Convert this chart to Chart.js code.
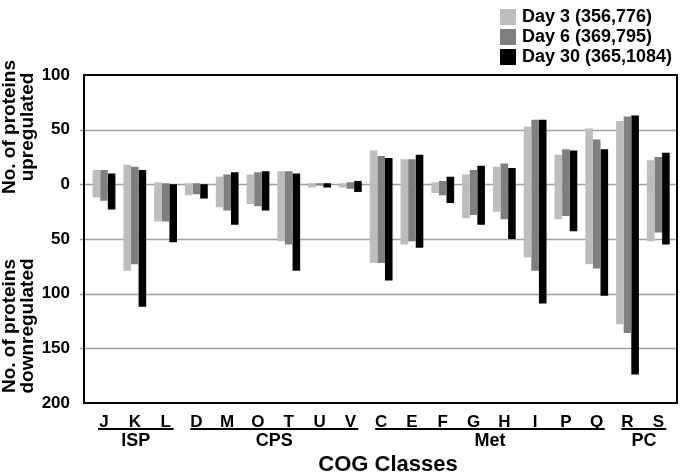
<!DOCTYPE html>
<html>
<head>
<meta charset="utf-8">
<script src="https://cdn.jsdelivr.net/npm/chart.js@4"></script>
<style>
  body { margin: 0; background: #fff; }
  #wrap { width: 680px; height: 476px; }
</style>
</head>
<body>
<div id="wrap"><canvas id="chart"></canvas></div>
<script>
// COG classes on the x axis
const categories = ['J', 'K', 'L', 'D', 'M', 'O', 'T', 'U', 'V', 'C', 'E', 'F', 'G', 'H', 'I', 'P', 'Q', 'R', 'S'];

// proteins up / down per class
const day3Up    = [13, 18, 2, 1, 7, 9, 12, 1, 1, 31, 23, 2, 9, 16, 53, 27, 51, 58, 22];
const day3Down  = [12, 79, 34, 10, 21, 18, 52, 3, 3, 72, 55, 8, 31, 25, 67, 32, 73, 128, 52];
const day6Up    = [13, 16, 1, 1, 9, 11, 12, 1, 2, 26, 23, 3, 13, 19, 59, 32, 41, 62, 25];
const day6Down  = [15, 73, 34, 9, 24, 20, 55, 1, 4, 72, 52, 10, 28, 32, 79, 29, 77, 136, 44];
const day30Up   = [10, 13, 0, 0, 11, 12, 10, 1, 3, 24, 27, 7, 17, 15, 59, 31, 32, 63, 29];
const day30Down = [23, 112, 53, 13, 37, 24, 79, 3, 7, 88, 58, 17, 37, 50, 109, 43, 102, 174, 55];

const seriesNames = ['Day 3 (356,776)', 'Day 6 (369,795)', 'Day 30 (365,1084)'];
const yTicks = [100, 50, 0, -50, -100, -150, -200];
const gridValues = [50, 0, -50, -100, -150];

// class groups shown under the axis
const groupNames = ['ISP', 'CPS', 'Met', 'PC'];
const groupFirst = ['J', 'D', 'C', 'R'];
const groupLast  = ['L', 'V', 'Q', 'S'];

const colors = ['#bdbdbd', '#7f7f7f', '#000000'];
const FONT = '"Liberation Sans", Arial, Helvetica, sans-serif';

function floating(up, down) {
    return up.map((u, i) => [-down[i], u]);
}

const frameAndNotes = {
    id: 'frameAndNotes',
    beforeDatasetsDraw(chart) {
        const ctx = chart.ctx;
        const area = chart.chartArea;
        const y = chart.scales.y;
        const left = area.left - 4.6, right = area.right + 3.3;
        ctx.save();
        ctx.strokeStyle = '#a0a0a0';
        ctx.lineWidth = 1.5;
        gridValues.forEach(v => {
            const py = Math.round(y.getPixelForValue(v)) + 0.5;
            ctx.beginPath();
            ctx.moveTo(left - 4, py);
            ctx.lineTo(right, py);
            ctx.stroke();
        });
        ctx.restore();
    },
    afterDraw(chart) {
        const ctx = chart.ctx;
        const area = chart.chartArea;
        const x = chart.scales.x;
        const left = area.left - 4.6, right = area.right + 3.3;
        ctx.save();

        // frame
        ctx.strokeStyle = '#000';
        ctx.lineWidth = 2;
        ctx.strokeRect(left, area.top, right - left, area.bottom - area.top);

        // group lines and names
        ctx.fillStyle = '#000';
        ctx.textAlign = 'center';
        ctx.textBaseline = 'middle';
        ctx.font = 'bold 18px ' + FONT;
        groupNames.forEach((name, i) => {
            const x0 = x.getPixelForValue(categories.indexOf(groupFirst[i])) - 6;
            const x1 = x.getPixelForValue(categories.indexOf(groupLast[i])) + 8;
            ctx.beginPath();
            ctx.moveTo(x0, 429);
            ctx.lineTo(x1, 429);
            ctx.stroke();
            ctx.fillText(name, (x0 + x1) / 2, 441);
        });

        // x title
        ctx.font = 'bold 22px ' + FONT;
        ctx.fillText('COG Classes', 388, 465);

        // y titles
        ctx.font = 'bold 19px ' + FONT;
        const yTitles = [['No. of proteins', 'upregulated', 127], ['No. of proteins', 'downregulated', 326]];
        yTitles.forEach(t => {
            ctx.save();
            ctx.translate(0, t[2]);
            ctx.rotate(-Math.PI / 2);
            ctx.fillText(t[0], 0, 10);
            ctx.fillText(t[1], 0, 28);
            ctx.restore();
        });

        // legend
        ctx.textAlign = 'left';
        ctx.font = 'bold 18px ' + FONT;
        seriesNames.forEach((name, i) => {
            const top = 9 + i * 20;
            ctx.fillStyle = colors[i];
            ctx.fillRect(500, top, 16, 16);
            ctx.fillStyle = '#000';
            ctx.fillText(name, 522, top + 8.5);
        });
        ctx.restore();
    }
};

new Chart(document.getElementById('chart'), {
    type: 'bar',
    data: {
        labels: categories,
        datasets: [
            { label: seriesNames[0], data: floating(day3Up, day3Down), backgroundColor: colors[0] },
            { label: seriesNames[1], data: floating(day6Up, day6Down), backgroundColor: colors[1] },
            { label: seriesNames[2], data: floating(day30Up, day30Down), backgroundColor: colors[2] }
        ]
    },
    options: {
        responsive: true,
        maintainAspectRatio: false,
        animation: false,
        layout: { padding: { top: 75, right: 6.3, left: 0, bottom: 0 } },
        datasets: { bar: { barPercentage: 1, categoryPercentage: 0.74, borderWidth: 0 } },
        plugins: { legend: { display: false }, tooltip: { enabled: false } },
        scales: {
            x: {
                grid: { display: false },
                border: { display: false },
                ticks: { color: '#000', padding: 1, font: { family: FONT, size: 17, weight: 'bold' } },
                afterFit(scale) { scale.height = 73; }
            },
            y: {
                min: -200,
                max: 100,
                afterBuildTicks(scale) { scale.ticks = yTicks.map(v => ({ value: v })); },
                grid: { display: false },
                border: { display: false },
                ticks: {
                    color: '#000',
                    padding: 10.6,
                    font: { family: FONT, size: 17, weight: 'bold' },
                    callback: v => Math.abs(v)
                },
                afterFit(scale) { scale.width = 88.6; }
            }
        }
    },
    plugins: [frameAndNotes]
});
</script>
</body>
</html>
